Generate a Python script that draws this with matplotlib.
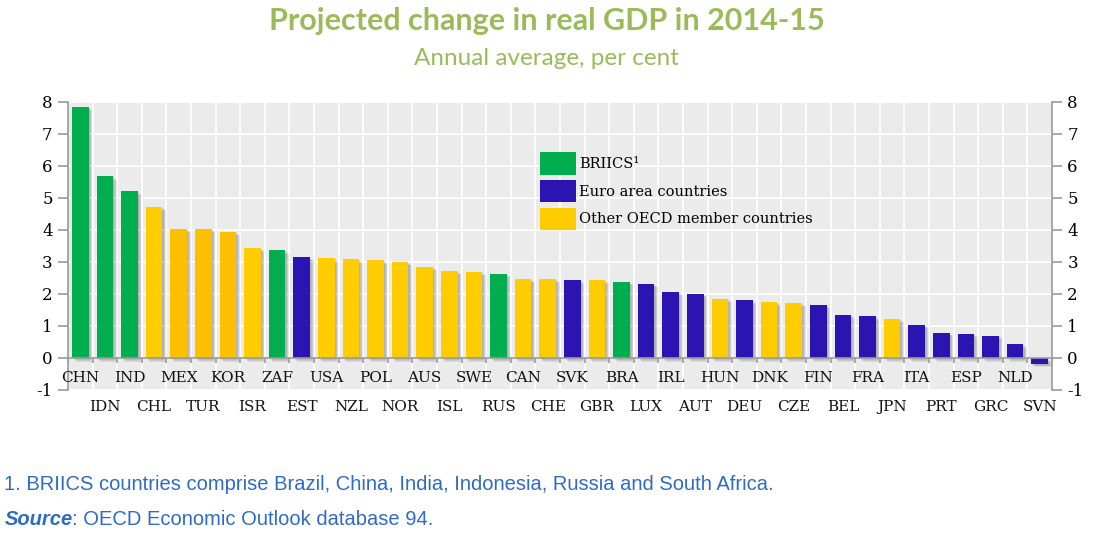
import matplotlib
matplotlib.use('Agg')
import matplotlib.pyplot as plt
import matplotlib.patheffects as pe
from matplotlib.patches import Patch

plt.rcParams['axes.unicode_minus'] = False

paises = ['CHN', 'IDN', 'IND', 'CHL', 'MEX', 'TUR', 'KOR', 'ISR', 'ZAF', 'EST',
          'USA', 'NZL', 'POL', 'NOR', 'AUS', 'ISL', 'SWE', 'RUS', 'CAN', 'CHE',
          'SVK', 'GBR', 'BRA', 'LUX', 'IRL', 'AUT', 'HUN', 'DEU', 'DNK', 'CZE',
          'FIN', 'BEL', 'FRA', 'JPN', 'ITA', 'PRT', 'ESP', 'GRC', 'NLD', 'SVN']
valores = [7.84, 5.68, 5.21, 4.72, 4.03, 4.03, 3.94, 3.44, 3.37, 3.16,
           3.12, 3.09, 3.06, 3.00, 2.85, 2.72, 2.69, 2.63, 2.47, 2.47,
           2.44, 2.44, 2.38, 2.32, 2.07, 2.01, 1.85, 1.81, 1.75, 1.72,
           1.66, 1.35, 1.31, 1.22, 1.04, 0.79, 0.76, 0.70, 0.42, -0.18]
# B = BRIICS, E = zona do euro, O = outros OCDE
grupos = ['B', 'B', 'B', 'O', 'O', 'O', 'O', 'O', 'B', 'E',
          'O', 'O', 'O', 'O', 'O', 'O', 'O', 'B', 'O', 'O',
          'E', 'O', 'B', 'E', 'E', 'E', 'O', 'E', 'O', 'O',
          'E', 'E', 'E', 'O', 'E', 'E', 'E', 'E', 'E', 'E']
nomesGrupos = {'B': 'BRIICS¹', 'E': 'Euro area countries', 'O': 'Other OECD member countries'}
yTicks = list(range(-1, 9))

cores = {'B': '#00AE4F', 'E': '#2B14B2', 'O': '#FFCC00'}
corTom = {'MEX': '#FDC000', 'TUR': '#FDC000', 'KOR': '#FDC000'}
verdeTitulo = '#9BBB59'
azulNota = '#2E6BC6'
serif = 'DejaVu Serif'

fig = plt.figure(figsize=(10.93, 5.43), dpi=100)
ax = fig.add_axes([0.0622, 0.2818, 0.9003, 0.5309])
ax.set_facecolor('#EBEBEB')

x = list(range(len(paises)))
corBarras = [corTom.get(p, cores[g]) for p, g in zip(paises, grupos)]

# grade branca nos limites das categorias
for i in range(len(paises) + 1):
    ax.axvline(i - 0.5, color='white', lw=1.2, zorder=1)
for v in yTicks:
    ax.axhline(v, color='white', lw=1.2, zorder=1)

# sombra suave: varias camadas deslocadas
sombra = [pe.SimplePatchShadow(offset=(k, -k), shadow_rgbFace='#666666', alpha=0.13)
          for k in (2.6, 2.0, 1.4, 0.8)]
barras = ax.bar(x, valores, width=0.68, color=corBarras, zorder=3)
for b in barras:
    b.set_path_effects(sombra + [pe.Normal()])

# linha do zero com marquinhas
ax.axhline(0, color='#9A9A9A', lw=1.2, zorder=4)
ax.vlines([i - 0.5 for i in range(len(paises) + 1)], -0.17, 0, color='#9A9A9A', lw=1.2, zorder=4)

ax.set_xlim(-0.5, len(paises) - 0.5)
ax.set_ylim(-1, 8)
ax.set_yticks(yTicks)
ax.set_xticks([])
ax.tick_params(axis='y', left=True, right=True, labelleft=True, labelright=True,
               length=7, width=1.2, color='#9A9A9A', pad=4, labelsize=12)
for lab in ax.get_yticklabels():
    lab.set_fontfamily(serif)
for s in ['top', 'bottom']:
    ax.spines[s].set_visible(False)
for s in ['left', 'right']:
    ax.spines[s].set_color('#9A9A9A')
    ax.spines[s].set_linewidth(1.2)

# rotulos em dois niveis
for i, p in enumerate(paises):
    yy = -0.63 if i % 2 == 0 else -1.52
    ax.text(i, yy, p, ha='center', va='center', fontsize=11, family=serif,
            color='#111111', clip_on=False)

handles = [Patch(facecolor=cores[g], label=nomesGrupos[g]) for g in ['B', 'E', 'O']]
leg = ax.legend(handles=handles, loc='upper left', bbox_to_anchor=(0.472, 0.85),
                frameon=False, borderpad=0, handlelength=2.5, handleheight=2.0,
                labelspacing=0.35, handletextpad=0.2, prop={'family': serif, 'size': 10.5})

fig.text(0.5, 0.962, 'Projected change in real GDP in 2014-15', ha='center', va='center',
         fontsize=22, fontweight='bold', family='Lato', color=verdeTitulo)
fig.text(0.5, 0.893, 'Annual average, per cent', ha='center', va='center',
         fontsize=17.5, family='Lato', color=verdeTitulo)

fig.text(0.004, 0.107, '1. BRIICS countries comprise Brazil, China, India, Indonesia, Russia and South Africa.',
         ha='left', va='center', fontsize=14.5, family='Liberation Sans', color=azulNota)
fig.text(0.004, 0.044, 'Source', ha='left', va='center', fontsize=14.5, family='Liberation Sans',
         fontweight='bold', style='italic', color=azulNota)
fig.text(0.0655, 0.044, ': OECD Economic Outlook database 94.', ha='left', va='center',
         fontsize=14.5, family='Liberation Sans', color=azulNota)

plt.savefig('out.png', dpi=100)
plt.close()
